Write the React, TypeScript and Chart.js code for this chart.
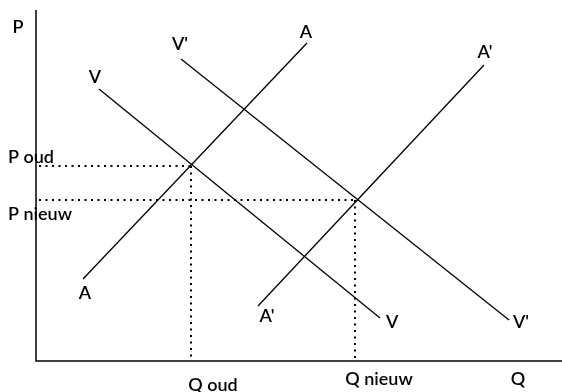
import React, { useEffect, useRef } from "react";
import { Chart, registerables } from "chart.js";

Chart.register(...registerables);

// Curves (x = quantity, y = price), two end points each
const curveV = [ { x: 63, y: 272 }, { x: 344, y: 43 } ];
const curveVPrime = [ { x: 145, y: 302 }, { x: 473, y: 41 } ];
const curveA = [ { x: 47, y: 82 }, { x: 271, y: 318 } ];
const curveAPrime = [ { x: 222, y: 55 }, { x: 448, y: 296 } ];

// Equilibria
const equilibriumQ = [155, 319]; // Q oud, Q nieuw
const equilibriumP = [195, 161]; // P oud, P nieuw
const priceLabels = ["P oud", "P nieuw"];
const quantityLabels = ["Q oud", "Q nieuw"];

const axisMax = { x: 526, y: 351 };
const axisTitles = { x: "Q", y: "P" };

const curveLabels = {
  V: ["V", "V"],
  VPrime: ["V'", "V'"],
  A: ["A", "A"],
  APrime: ["A'", "A'"],
};

const FONT = "600 18px Lato";

export default function App() {
  const ref = useRef<HTMLCanvasElement | null>(null);

  useEffect(() => {
    const canvas = ref.current;
    if (!canvas) return;

    const lineDs = (data: { x: number; y: number }[]) => ({
      type: "line" as const,
      data,
      borderColor: "#000",
      borderWidth: 1.3,
      pointRadius: 0,
      showLine: true,
      fill: false,
      clip: false as any,
    });
    const dotDs = (data: { x: number; y: number }[]) => ({
      type: "line" as const,
      data,
      borderColor: "#000",
      borderWidth: 2,
      borderDash: [2, 4.5],
      pointRadius: 0,
      showLine: true,
      fill: false,
      clip: false as any,
    });

    const datasets: any[] = [
      lineDs(curveV),
      lineDs(curveVPrime),
      lineDs(curveA),
      lineDs(curveAPrime),
    ];
    equilibriumQ.forEach((q, i) => {
      const p = equilibriumP[i];
      datasets.push(dotDs([ { x: 3, y: p }, { x: q, y: p } ]));
      datasets.push(dotDs([ { x: q, y: p }, { x: q, y: 0 } ]));
    });

    const textPlugin = {
      id: "texts",
      afterDatasetsDraw(chart: any) {
        const ctx = chart.ctx as CanvasRenderingContext2D;
        const xs = chart.scales.x;
        const ys = chart.scales.y;
        const px = (v: number) => xs.getPixelForValue(v);
        const py = (v: number) => ys.getPixelForValue(v);
        ctx.save();
        // axes
        ctx.strokeStyle = "#000";
        ctx.lineWidth = 1.5;
        ctx.beginPath();
        ctx.moveTo(px(0), py(axisMax.y));
        ctx.lineTo(px(0), py(0));
        ctx.lineTo(px(axisMax.x), py(0));
        ctx.stroke();

        ctx.fillStyle = "#000";
        ctx.font = FONT;
        ctx.textBaseline = "middle";
        const put = (t: string, x: number, y: number, align: CanvasTextAlign) => {
          ctx.textAlign = align;
          ctx.fillText(t, x, y);
        };
        // axis titles
        put(axisTitles.y, px(0) - 18, py(axisMax.y) + 17, "center");
        put(axisTitles.x, px(axisMax.x) - 44, py(0) + 18, "center");
        // price labels
        put(priceLabels[0], 8, py(equilibriumP[0]) - 9, "left");
        put(priceLabels[1], 8, py(equilibriumP[1]) + 14, "left");
        // quantity labels
        put(quantityLabels[0], px(equilibriumQ[0]) + 22, py(0) + 24, "center");
        put(quantityLabels[1], px(equilibriumQ[1]) + 24, py(0) + 18, "center");
        // curve labels
        const top = (pts: { x: number; y: number }[]) =>
          pts[0].y > pts[1].y ? pts[0] : pts[1];
        const bot = (pts: { x: number; y: number }[]) =>
          pts[0].y > pts[1].y ? pts[1] : pts[0];
        let t = top(curveV);
        put(curveLabels.V[0], px(t.x) - 4, py(t.y) - 12, "center");
        t = top(curveVPrime);
        put(curveLabels.VPrime[0], px(t.x) - 1, py(t.y) - 15, "center");
        t = top(curveA);
        put(curveLabels.A[0], px(t.x) - 1, py(t.y) - 11, "center");
        t = top(curveAPrime);
        put(curveLabels.APrime[0], px(t.x) + 1, py(t.y) - 13, "center");
        let b = bot(curveA);
        put(curveLabels.A[1], px(b.x) + 2, py(b.y) + 14, "center");
        b = bot(curveAPrime);
        put(curveLabels.APrime[1], px(b.x) + 9, py(b.y) + 10, "center");
        b = bot(curveV);
        put(curveLabels.V[1], px(b.x) + 6, py(b.y) + 4, "left");
        b = bot(curveVPrime);
        put(curveLabels.VPrime[1], px(b.x) + 4, py(b.y) + 2, "left");
        ctx.restore();
      },
    };

    const chart = new Chart(canvas, {
      type: "scatter",
      data: { datasets },
      options: {
        animation: false,
        responsive: false,
        maintainAspectRatio: false,
        layout: { padding: { left: 36, top: 10, right: 0, bottom: 31 } },
        plugins: { legend: { display: false }, tooltip: { enabled: false } },
        scales: {
          x: { type: "linear", min: 0, max: axisMax.x, display: false },
          y: { type: "linear", min: 0, max: axisMax.y, display: false },
        },
      },
      plugins: [textPlugin],
    });
    return () => chart.destroy();
  }, []);

  return (
    <div style={{ position: "fixed", left: 0, top: 0, width: 562, height: 392, background: "#fff" }}>
      <canvas ref={ref} width={562} height={392} style={{ width: 562, height: 392 }} />
    </div>
  );
}
